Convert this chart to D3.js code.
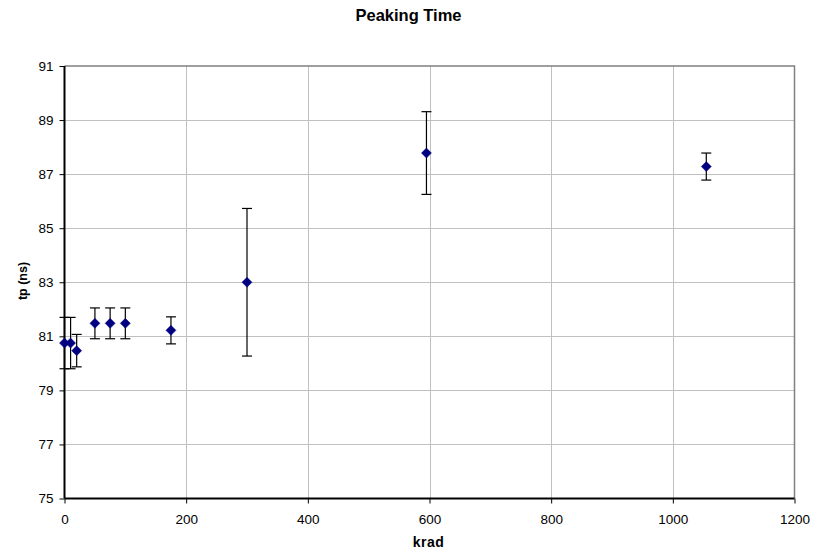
<!DOCTYPE html>
<html><head><meta charset="utf-8">
<script src="https://cdn.jsdelivr.net/npm/d3@7"></script>
<style>body{margin:0;background:#fff}svg{display:block;font-family:"Liberation Sans",Arial,sans-serif}</style>
</head><body><svg id="c" width="820" height="552"></svg>
<script>
const krad = [0, 10, 20, 50, 75, 100, 175, 300, 595, 1055];
const tp = [80.75, 80.75, 80.47, 81.48, 81.48, 81.48, 81.22, 83.0, 87.78, 87.28];
const err = [0.95, 0.95, 0.6, 0.57, 0.57, 0.57, 0.5, 2.73, 1.53, 0.5];
const xTicks = [0, 200, 400, 600, 800, 1000, 1200];
const yTicks = [75, 77, 79, 81, 83, 85, 87, 89, 91];

const svg = d3.select("#c");
const L = 64.5, R = 794.5, T = 66, B = 498.5;
const x = d3.scaleLinear().domain([0, 1200]).range([L, R]);
const y = d3.scaleLinear().domain([75, 91]).range([B, T]);

// gridlines
svg.append("g").selectAll("line.v").data(xTicks.slice(1, -1)).join("line")
  .attr("x1", d => Math.round(x(d)) + 0.5).attr("x2", d => Math.round(x(d)) + 0.5)
  .attr("y1", T).attr("y2", B).attr("stroke", "#c0c0c0").attr("stroke-width", 1);
svg.append("g").selectAll("line.h").data(yTicks.slice(1, -1)).join("line")
  .attr("y1", d => Math.round(y(d)) + 0.5).attr("y2", d => Math.round(y(d)) + 0.5)
  .attr("x1", L).attr("x2", R).attr("stroke", "#c0c0c0").attr("stroke-width", 1);
// top/right border
svg.append("path").attr("d", `M${L},${T}H${R}V${B}`).attr("fill", "none").attr("stroke", "#808080").attr("stroke-width", 1.5);

// axes
const xAxis = svg.append("g").attr("transform", `translate(0,${B})`)
  .call(d3.axisBottom(x).tickValues(xTicks).tickSize(5).tickFormat(d3.format("d")));
const yAxis = svg.append("g").attr("transform", `translate(${L},0)`)
  .call(d3.axisLeft(y).tickValues(yTicks).tickSize(5).tickFormat(d3.format("d")));
[xAxis, yAxis].forEach(a => {
  a.select(".domain").attr("stroke", "#000").attr("stroke-width", 2);
  a.selectAll(".tick line").attr("stroke", "#000");
  a.selectAll(".tick text").attr("font-size", 13.5).attr("fill", "#000").attr("font-family", '"Liberation Sans",Arial,sans-serif');
});
xAxis.selectAll(".tick text").attr("y", 15.5).attr("dy", "0.71em");
yAxis.selectAll(".tick text").attr("x", -11);
xAxis.select(".domain").attr("d", `M${L},0H${R}`);
yAxis.select(".domain").attr("d", `M0,${B}V${T}`);

// error bars
const eb = svg.append("g").attr("stroke", "#000").attr("stroke-width", 1.2);
krad.forEach((k, i) => {
  const cx = x(k), y1 = y(tp[i] + err[i]), y2 = y(tp[i] - err[i]);
  eb.append("line").attr("x1", cx).attr("x2", cx).attr("y1", y1).attr("y2", y2);
  eb.append("line").attr("x1", cx - 5).attr("x2", cx + 5).attr("y1", y1).attr("y2", y1);
  eb.append("line").attr("x1", cx - 5).attr("x2", cx + 5).attr("y1", y2).attr("y2", y2);
});
// markers
svg.append("g").selectAll("path").data(krad).join("path")
  .attr("transform", (d, i) => `translate(${x(d)},${y(tp[i])})`)
  .attr("d", "M0,-5L5,0L0,5L-5,0Z").attr("fill", "#000080").attr("stroke", "#000080").attr("stroke-width", 0.5);

// titles
svg.append("text").attr("x", 408.5).attr("y", 21).attr("text-anchor", "middle")
  .attr("font-size", 16.5).attr("font-weight", "bold").text("Peaking Time");
svg.append("text").attr("x", 428.5).attr("y", 547).attr("text-anchor", "middle")
  .attr("font-size", 14).attr("font-weight", "bold").attr("letter-spacing", 0.5).text("krad");
svg.append("text").attr("transform", "translate(27,281) rotate(-90)").attr("text-anchor", "middle")
  .attr("font-size", 12.5).attr("font-weight", "bold").text("tp (ns)");
</script></body></html>
